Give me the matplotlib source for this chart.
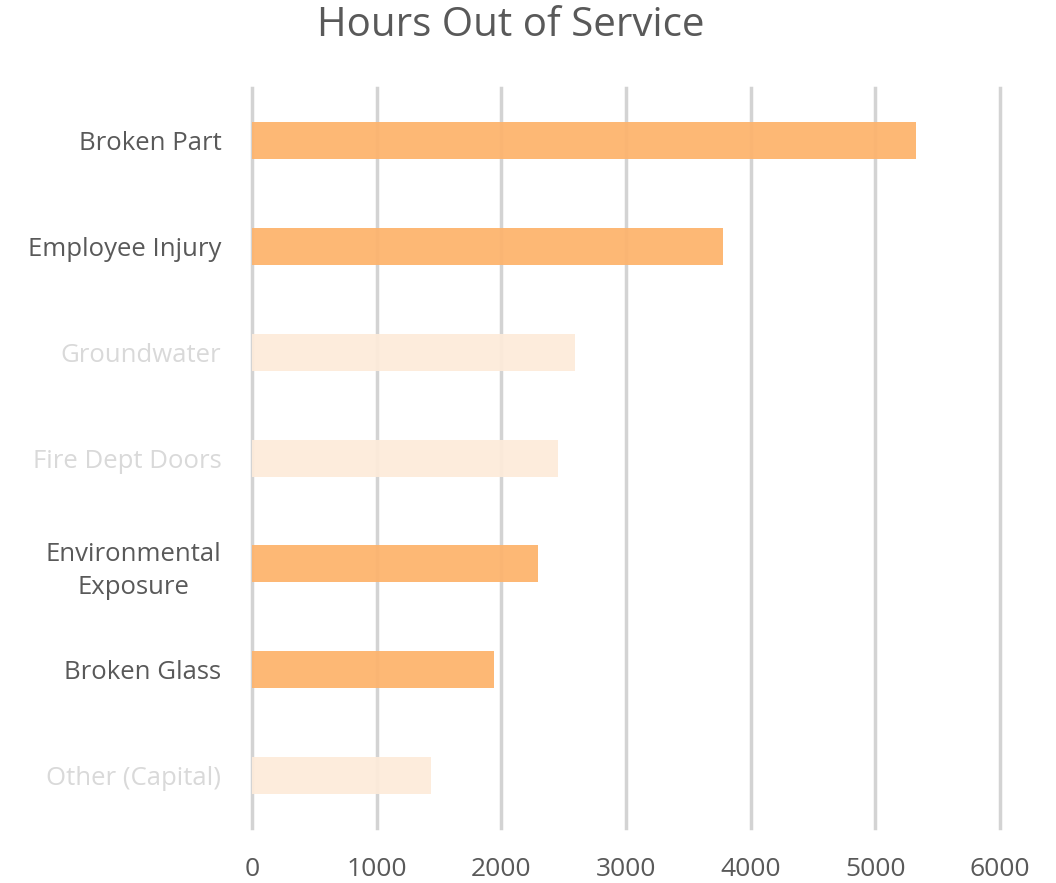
import matplotlib
matplotlib.use("Agg")
import matplotlib.pyplot as plt

categories = ["Broken Part", "Employee Injury", "Groundwater", "Fire Dept Doors",
              "Environmental\nExposure", "Broken Glass", "Other (Capital)"]
hours = [5330, 3780, 2590, 2455, 2295, 1940, 1440]
highlighted = [True, True, False, False, True, True, False]
x_ticks = [0, 1000, 2000, 3000, 4000, 5000, 6000]

plt.rcParams['font.family'] = ['Open Sans', 'DejaVu Sans']

fig = plt.figure(figsize=(10.56, 8.83), dpi=100)
ax = fig.add_axes([0.2386, 0.0623, 0.947 - 0.2386, 0.9003 - 0.0623])

strong = "#FDB46E"
faded = "#FDEBDA"
ypos = list(range(len(categories)))
colors = [strong if h else faded for h in highlighted]
ax.barh(ypos, hours, height=0.35, color=colors, zorder=3, alpha=0.95)

ax.set_xlim(0, 6000)
ax.set_ylim(len(categories) - 0.5, -0.5)
ax.set_xticks(x_ticks)
ax.set_xticklabels([str(t) for t in x_ticks])
ax.set_yticks(ypos)
ax.set_yticklabels(categories)
for lbl, h in zip(ax.get_yticklabels(), highlighted):
    lbl.set_color("#595959" if h else "#D9D9D9")
    lbl.set_multialignment("center")
    lbl.set_linespacing(1.45)

ax.tick_params(axis='y', length=0, pad=22, labelsize=18.5)
ax.tick_params(axis='x', length=0, pad=21, labelsize=19, colors="#595959")
ax.grid(axis='x', color="#D3D3D3", linewidth=2.5, zorder=1)
for gl in ax.get_xgridlines():
    gl.set_clip_on(False)
ax.set_axisbelow(True)
for s in ax.spines.values():
    s.set_visible(False)

fig.text(0.4834, 0.971, "Hours Out of Service", ha='center', va='center',
         fontsize=29, color="#595959")

fig.savefig("out.png", dpi=100)
